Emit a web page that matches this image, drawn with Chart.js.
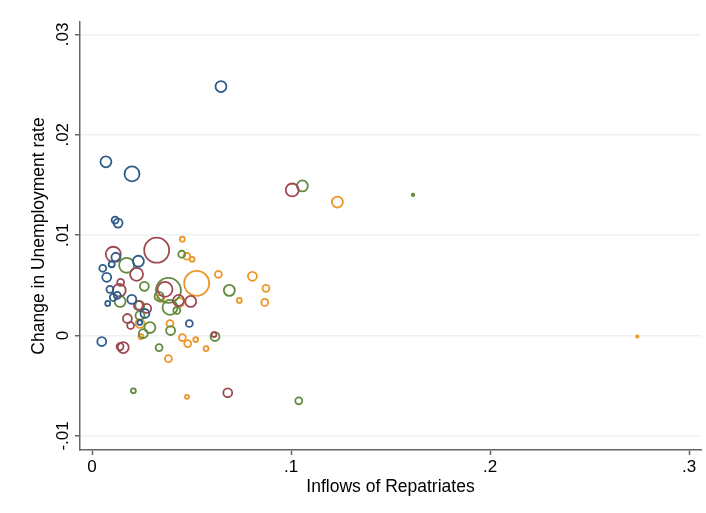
<!DOCTYPE html>
<html>
<head>
    <meta charset="UTF-8">
    <title>Repatriates and Unemployment</title>
    <script src="https://cdn.jsdelivr.net/npm/chart.js"></script>
    <style>
        html, body { margin: 0; background: #fff; overflow: hidden; }
        #wrap { width: 706px; height: 513px; }
        canvas { display: block; }
    </style>
</head>
<body>
    <div id="wrap"><canvas id="chart"></canvas></div>

    <script>
        // tick labels
        const xTicks = [0, 0.1, 0.2, 0.3];
        const yTicks = [-0.01, 0, 0.01, 0.02, 0.03];

        // navy group: inflow, change in unemployment, bubble weight
        const navyInflow = [0.0648, 0.0070, 0.0201, 0.0116, 0.0131, 0.0120, 0.0233, 0.0054, 0.0074, 0.0099, 0.0090, 0.0127, 0.0079, 0.0200, 0.0266, 0.0240, 0.0489, 0.0049, 0.0107];
        const navyChange = [0.0248, 0.0173, 0.0161, 0.0115, 0.0112, 0.0078, 0.0074, 0.0067, 0.0058, 0.0071, 0.0046, 0.0040, 0.0032, 0.0036, 0.0022, 0.0013, 0.0012, -0.0006, 0.0038];
        const navyWeight = [30, 30, 56, 12, 20, 20, 30, 12, 20, 9, 12, 12, 6, 20, 20, 6, 12, 20, 12];

        // maroon group
        const maroonInflow = [0.1006, 0.0682, 0.0107, 0.0325, 0.0224, 0.0144, 0.0137, 0.0367, 0.0496, 0.0435, 0.0233, 0.0275, 0.0178, 0.0194, 0.0157, 0.0141, 0.0613];
        const maroonChange = [0.0145, -0.0057, 0.0081, 0.0085, 0.0061, 0.0053, 0.0045, 0.0046, 0.0034, 0.0035, 0.0030, 0.0027, 0.0017, 0.0010, -0.0012, -0.0011, 0.0001];
        const maroonWeight = [42, 20, 56, 156, 42, 12, 42, 56, 30, 30, 20, 20, 20, 12, 30, 12, 6];

        // green group
        const greenInflow = [0.1057, 0.1613, 0.1039, 0.0208, 0.0451, 0.0174, 0.0263, 0.0384, 0.0690, 0.0337, 0.0141, 0.0392, 0.0426, 0.0241, 0.0291, 0.0258, 0.0395, 0.0337, 0.0618, 0.0240];
        const greenChange = [0.0149, 0.0140, -0.0065, -0.0055, 0.0081, 0.0070, 0.0049, 0.0045, 0.0045, 0.0039, 0.0034, 0.0028, 0.0025, 0.0020, 0.0008, 0.0002, 0.0005, -0.0012, -0.0001, 0.0030];
        const greenWeight = [30, 1.5, 12, 6, 12, 56, 20, 156, 30, 20, 30, 56, 12, 20, 30, 20, 20, 12, 20, 20];

        // orange group
        const orangeInflow = [0.2740, 0.1233, 0.0477, 0.0454, 0.0476, 0.0503, 0.0526, 0.0635, 0.0806, 0.0874, 0.0740, 0.0868, 0.0345, 0.0439, 0.0392, 0.0241, 0.0246, 0.0454, 0.0481, 0.0521, 0.0573, 0.0384];
        const orangeChange = [-0.0001, 0.0133, -0.0061, 0.0096, 0.0079, 0.0076, 0.0052, 0.0061, 0.0059, 0.0047, 0.0035, 0.0033, 0.0037, 0.0033, 0.0012, 0.0012, -0.0001, -0.0002, -0.0008, -0.0004, -0.0013, -0.0023];
        const orangeWeight = [1.5, 30, 4, 6, 12, 6, 156, 12, 20, 12, 6, 12, 12, 20, 12, 20, 6, 12, 12, 6, 6, 12];

        function points(xs, ys, ws) {
            return xs.map((x, i) => ({ x: x, y: ys[i], r: Math.sqrt(ws[i]) }));
        }

        function fmt(v) {
            const n = Math.round(v * 100) / 100;
            if (n === 0) return '0';
            return n.toString().replace('0.', '.');
        }

        const family = 'Liberation Sans, Arial, sans-serif';
        const tickFont = { family: family, size: 17 };
        const titleFont = { family: family, size: 17.5 };

        // y tick labels in Stata style: rotated, reading upwards
        const rotatedYLabels = {
            id: 'rotatedYLabels',
            afterDraw(chart) {
                const ctx = chart.ctx;
                const y = chart.scales.y;
                ctx.save();
                ctx.fillStyle = '#000';
                ctx.font = tickFont.size + 'px ' + family;
                ctx.textAlign = 'center';
                ctx.textBaseline = 'middle';
                yTicks.forEach(v => {
                    ctx.save();
                    ctx.translate(63, y.getPixelForValue(v));
                    ctx.rotate(-Math.PI / 2);
                    ctx.fillText(fmt(v), 0, 0);
                    ctx.restore();
                });
                ctx.restore();
            }
        };

        const dsStyle = (color) => ({
            borderColor: color,
            backgroundColor: 'rgba(0,0,0,0)',
            borderWidth: 1.8
        });

        new Chart(document.getElementById('chart'), {
            type: 'bubble',
            data: {
                datasets: [
                    Object.assign({ label: 'navy', data: points(navyInflow, navyChange, navyWeight) }, dsStyle('#2f5c88')),
                    Object.assign({ label: 'maroon', data: points(maroonInflow, maroonChange, maroonWeight) }, dsStyle('#9e4852')),
                    Object.assign({ label: 'green', data: points(greenInflow, greenChange, greenWeight) }, dsStyle('#618b3e')),
                    Object.assign({ label: 'orange', data: points(orangeInflow, orangeChange, orangeWeight) }, dsStyle('#ec9628'))
                ]
            },
            options: {
                responsive: true,
                maintainAspectRatio: false,
                animation: false,
                layout: { autoPadding: false, padding: { top: 22, right: 5, left: 0, bottom: 0 } },
                plugins: {
                    legend: { display: false },
                    tooltip: { enabled: false }
                },
                scales: {
                    x: {
                        type: 'linear',
                        min: -0.00603,
                        max: 0.306,
                        afterBuildTicks: (s) => { s.ticks = xTicks.map(v => ({ value: v })); },
                        afterFit: (s) => { s.height = 63; s.paddingLeft = 0; s.paddingRight = 0; },
                        ticks: {
                            callback: (v) => fmt(v),
                            color: '#000',
                            font: tickFont,
                            padding: 2,
                            maxRotation: 0
                        },
                        grid: {
                            drawOnChartArea: false,
                            drawTicks: true,
                            tickLength: 5,
                            tickColor: '#666',
                            tickWidth: 1.5
                        },
                        border: { color: '#666', width: 1.5 },
                        title: {
                            display: true,
                            text: 'Inflows of Repatriates',
                            color: '#000',
                            font: titleFont,
                            padding: { top: 0, bottom: 15 }
                        }
                    },
                    y: {
                        type: 'linear',
                        min: -0.0114,
                        max: 0.03123,
                        afterBuildTicks: (s) => { s.ticks = yTicks.map(v => ({ value: v })); },
                        afterFit: (s) => { s.width = 80; s.paddingTop = 0; s.paddingBottom = 0; },
                        ticks: { display: false },
                        grid: {
                            color: '#eaf2f3',
                            lineWidth: 1.5,
                            drawTicks: true,
                            tickLength: 5,
                            tickColor: '#666',
                            tickWidth: 1.5
                        },
                        border: { color: '#666', width: 1.5 },
                        title: {
                            display: true,
                            text: 'Change in Unemployment rate',
                            color: '#000',
                            font: titleFont,
                            padding: { top: 29, bottom: 0 }
                        }
                    }
                }
            },
            plugins: [rotatedYLabels]
        });
    </script>
</body>
</html>
